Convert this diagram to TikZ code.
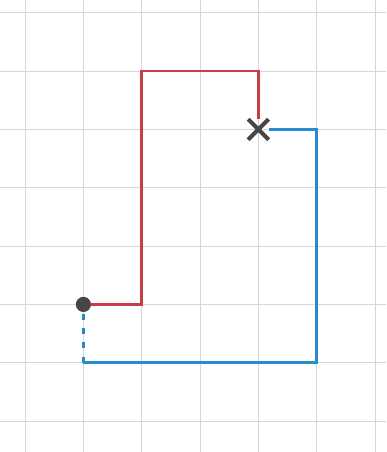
\documentclass[tikz,border=0pt]{standalone}
\usepackage{tikz}
\usetikzlibrary{shapes.misc}

\definecolor{penred}{RGB}{196,62,72}
\definecolor{penblue}{RGB}{38,140,208}
\definecolor{pengray}{RGB}{70,70,70}

\begin{document}
\begin{tikzpicture}[
  gridline/.style={draw=black!16, line width=0.5pt},
  start/.style={circle, fill=pengray, inner sep=0pt, minimum size=2.6mm},
  goal/.style={cross out, draw=pengray, line width=2pt, inner sep=0pt,
               minimum size=2.8mm},
  redpath/.style={draw=penred, line width=1.3pt},
  bluepath/.style={draw=penblue, line width=1.3pt},
  bluedash/.style={bluepath, dash pattern=on 3pt off 4pt}
]
  \useasboundingbox (-0.43,-0.53) rectangle (6.19,7.22);
  % squared paper
  \draw[gridline] (-0.43,-0.53) grid (6.19,7.22);
  % start and end
  \node[start] (s) at (1,2) {};
  \node[goal] (e) at (4,5) {};
  \coordinate (r1) at (2,2);
  \coordinate (r2) at (2,6);
  \coordinate (r3) at (4,6);
  \coordinate (b1) at (5,5);
  \coordinate (b2) at (5,1);
  \coordinate (b3) at (1,1);
  % red way
  \draw[redpath] (s) -- (r1) -- (r2) -- (r3) -- (e);
  % blue way
  \draw[bluepath] (e) -- (b1) -- (b2) -- (b3);
  \draw[bluedash] (b3) -- (s);
\end{tikzpicture}
\end{document}
